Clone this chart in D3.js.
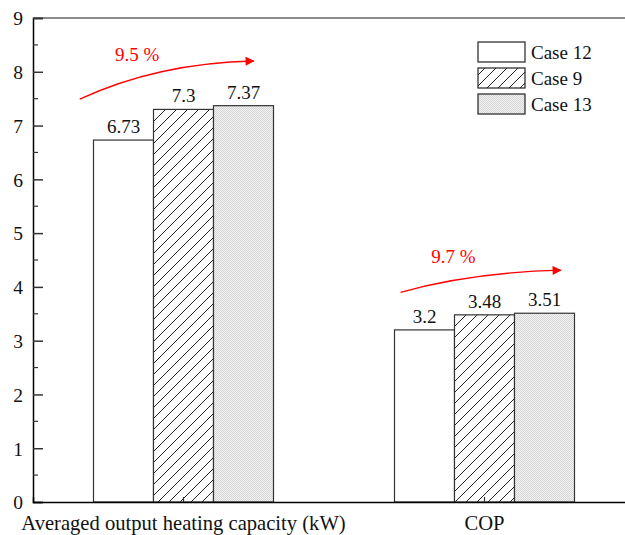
<!DOCTYPE html>
<html><head><meta charset="utf-8">
<script src="https://cdn.jsdelivr.net/npm/d3@7"></script>
<style>body{margin:0;background:#fff}svg{display:block}text{font-family:"Liberation Serif","Times New Roman",serif}</style>
</head><body>
<script>
const categories = ["Averaged output heating capacity (kW)", "COP"];
const seriesNames = ["Case 12", "Case 9", "Case 13"];
const case12 = [6.73, 3.2];
const case9 = [7.3, 3.48];
const case13 = [7.37, 3.51];
const valueLabels = [["6.73","3.2"],["7.3","3.48"],["7.37","3.51"]];
const yTicks = [0,1,2,3,4,5,6,7,8,9];
const increases = ["9.5 %", "9.7 %"];
const increaseTextValue = [8.2, 4.44];
// arrow annotations: [start offset (bar widths from group centre), start value, end offset, end value]
const arrowStart = [[-1.73, 7.49], [-1.4, 3.9]];
const arrowEnd = [[1.17, 8.2], [1.27, 4.31]];

const W = 625, H = 535;
const m = {left: 33, top: 18, right: -10, bottom: 33};
const svg = d3.select("body").append("svg").attr("width", W).attr("height", H);
const defs = svg.append("defs");
const hatch = defs.append("pattern").attr("id","hatch").attr("patternUnits","userSpaceOnUse").attr("width",11).attr("height",11);
hatch.append("rect").attr("width",11).attr("height",11).attr("fill","#fff");
hatch.append("path").attr("d","M-2,13 L13,-2 M-2,2 L2,-2 M9,13 L13,9").attr("stroke","#222").attr("stroke-width",1);
const dots = defs.append("pattern").attr("id","dots").attr("patternUnits","userSpaceOnUse").attr("width",2).attr("height",2);
dots.append("rect").attr("width",2).attr("height",2).attr("fill","#f2f2f2");
dots.append("rect").attr("width",1).attr("height",1).attr("fill","#d6d6d6");
dots.append("rect").attr("x",1).attr("y",1).attr("width",1).attr("height",1).attr("fill","#d6d6d6");
const marker = defs.append("marker").attr("id","arrow").attr("viewBox","0 0 10 10").attr("refX",9).attr("refY",5)
  .attr("markerWidth",14).attr("markerHeight",9).attr("markerUnits","userSpaceOnUse").attr("orient","auto");
marker.append("path").attr("d","M0,0 L10,5 L0,10 Z").attr("fill","#ff0000");

const x0 = d3.scaleBand().domain(categories).range([m.left, W - m.right]).padding(0);
const x1 = d3.scaleBand().domain(seriesNames).range([-90, 90]);
const y = d3.scaleLinear().domain([0, 9]).range([H - m.bottom - 0, m.top]);
const fills = ["#ffffff", "url(#hatch)", "url(#dots)"];
const data = [case12, case9, case13];

// top border
svg.append("line").attr("x1", m.left).attr("x2", W + 20).attr("y1", y(9)).attr("y2", y(9)).attr("stroke","#666").attr("stroke-width",1.5);

// bars
seriesNames.forEach((s, si) => {
  svg.append("g").selectAll("rect").data(categories).join("rect")
    .attr("x", c => x0(c) + x0.bandwidth()/2 + x1(s))
    .attr("y", (c, i) => y(data[si][i]))
    .attr("width", x1.bandwidth())
    .attr("height", (c, i) => y(0) - y(data[si][i]))
    .attr("fill", fills[si]).attr("stroke", "#333").attr("stroke-width", 1.2);
  svg.append("g").selectAll("text").data(categories).join("text")
    .attr("x", c => x0(c) + x0.bandwidth()/2 + x1(s) + x1.bandwidth()/2)
    .attr("y", (c, i) => y(data[si][i]) - 7)
    .attr("text-anchor","middle").attr("font-size", 19).attr("fill","#111")
    .text((c, i) => valueLabels[si][i]);
});

// y axis
const yAxis = d3.axisLeft(y).tickValues(yTicks).tickSize(-10).tickPadding(20).tickFormat(d3.format("d"));
const ga = svg.append("g").attr("transform", `translate(${m.left},0)`).call(yAxis);
ga.select(".domain").attr("stroke","#000").attr("stroke-width",1.5);
ga.selectAll(".tick line").attr("stroke","#333").attr("stroke-width",1.5);
ga.selectAll(".tick text").attr("font-size", 19.5).attr("font-family","Liberation Serif").attr("fill","#111").attr("dy","0.35em").attr("x",-10);
const minor = d3.range(0.5, 9, 1);
svg.append("g").selectAll("line").data(minor).join("line")
  .attr("x1", m.left).attr("x2", m.left + 5).attr("y1", d => y(d)).attr("y2", d => y(d))
  .attr("stroke","#333").attr("stroke-width",1.2);

// x axis
const xAxis = d3.axisBottom(x0).tickSize(-5).tickPadding(13);
const gx = svg.append("g").attr("transform", `translate(0,${y(0)})`).call(xAxis);
gx.select(".domain").attr("stroke","#000").attr("stroke-width",1.5);
gx.selectAll(".tick line").attr("stroke","#333").attr("stroke-width",1.2);
gx.selectAll(".tick text").attr("font-size", 20.6).attr("font-family","Liberation Serif").attr("fill","#111");

// arrows
const bw = x1.bandwidth();
categories.forEach((c, i) => {
  const cx = x0(c) + x0.bandwidth()/2;
  const sx = cx + arrowStart[i][0]*bw, sy = y(arrowStart[i][1]);
  const ex = cx + arrowEnd[i][0]*bw, ey = y(arrowEnd[i][1]);
  const qx = sx + (ex - sx)*0.45, qy = ey + 2;
  svg.append("path").attr("d", `M${sx},${sy} Q${qx},${qy} ${ex},${ey}`)
    .attr("fill","none").attr("stroke","#ff0000").attr("stroke-width",1.3).attr("marker-end","url(#arrow)");
  svg.append("text").attr("x", sx + (ex - sx)*0.33).attr("y", y(increaseTextValue[i]))
    .attr("text-anchor","middle").attr("font-size",19).attr("fill","#ff0000").text(increases[i]);
});

// legend
const lg = svg.append("g").attr("transform","translate(478,42)");
seriesNames.forEach((s, i) => {
  lg.append("rect").attr("x",0).attr("y", i*26).attr("width",47).attr("height",20)
    .attr("fill", fills[i]).attr("stroke","#222").attr("stroke-width",1.2);
  lg.append("text").attr("x",53).attr("y", i*26 + 17).attr("font-size",19).attr("fill","#111").text(s);
});
</script>
</body></html>
